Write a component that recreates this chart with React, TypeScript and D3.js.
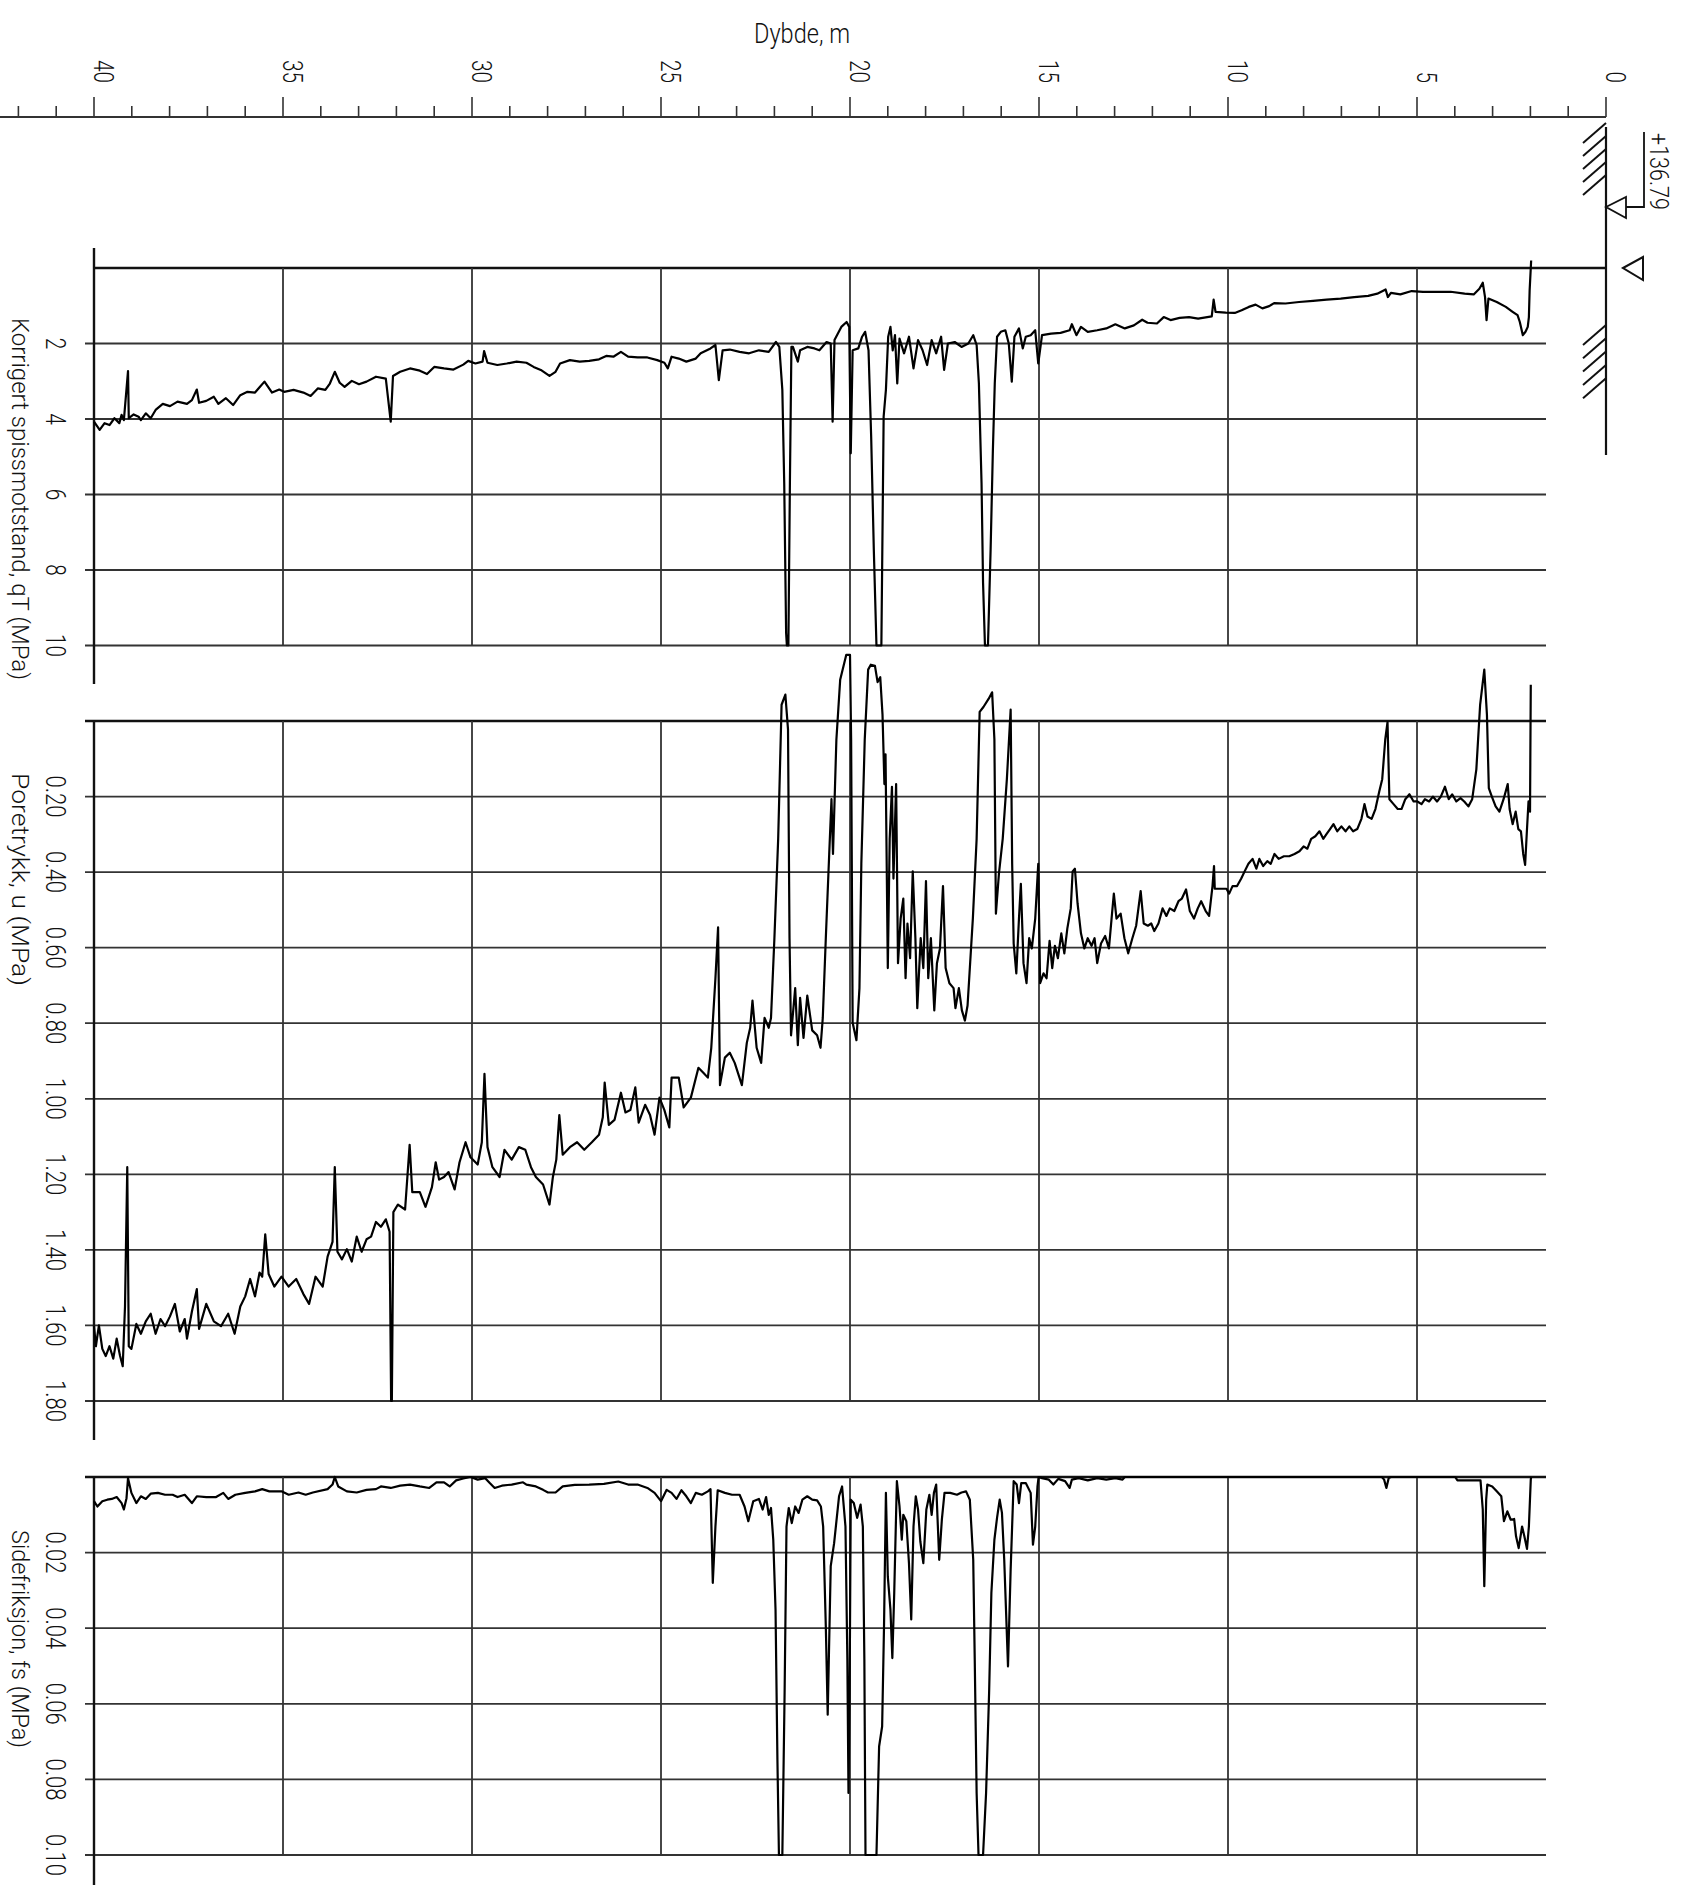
import React from "react";
import * as d3 from "d3";

const W = 1684;
const H = 1885;
const FONT = "Roboto, 'DejaVu Sans Condensed', 'DejaVu Sans', sans-serif";
const FONT_WEIGHT = 300;

// Depth axis (m)
const depthTicks = d3.range(0, 43);
const depthLabels = [0, 5, 10, 15, 20, 25, 30, 35, 40];
const depthGrid = [5, 10, 15, 20, 25, 30, 35];

// Value axes
const qtTicks = [2, 4, 6, 8, 10];
const uTicks = [0.2, 0.4, 0.6, 0.8, 1.0, 1.2, 1.4, 1.6, 1.8];
const fsTicks = [0.02, 0.04, 0.06, 0.08, 0.1];

const qtTitle = "Korrigert spissmotstand, qT (MPa)";
const uTitle = "Poretrykk, u (MPa)";
const fsTitle = "Sidefriksjon, fs (MPa)";
const depthTitle = "Dybde, m";
const groundLevel = "+136.79";

// Corrected cone resistance qT (MPa) by depth (m)
const qtData: [number, number][] = [
  [40.0, 4.07], [39.85, 4.29], [39.72, 4.11], [39.59, 4.16], [39.46, 3.98], [39.33, 4.11], [39.27, 3.89],
  [39.21, 4.03], [39.1, 2.73], [39.08, 3.98], [38.95, 3.88], [38.82, 3.94], [38.76, 4.03], [38.63, 3.85],
  [38.5, 3.98], [38.37, 3.76], [38.18, 3.6], [37.99, 3.66], [37.79, 3.54], [37.54, 3.6], [37.41, 3.5],
  [37.28, 3.22], [37.22, 3.57], [37.03, 3.52], [36.83, 3.41], [36.71, 3.6], [36.51, 3.45], [36.32, 3.63],
  [36.13, 3.37], [35.94, 3.28], [35.74, 3.3], [35.62, 3.16], [35.49, 3.01], [35.29, 3.3], [35.1, 3.22],
  [34.97, 3.28], [34.72, 3.23], [34.46, 3.3], [34.27, 3.39], [34.08, 3.19], [33.88, 3.23], [33.76, 3.06],
  [33.63, 2.75], [33.5, 3.04], [33.37, 3.15], [33.18, 2.99], [32.99, 3.08], [32.79, 3.01], [32.54, 2.88],
  [32.28, 2.93], [32.15, 4.07], [32.09, 2.86], [31.9, 2.75], [31.64, 2.66], [31.38, 2.72], [31.19, 2.81],
  [31.0, 2.62], [30.74, 2.66], [30.49, 2.69], [30.23, 2.56], [30.1, 2.46], [29.91, 2.53], [29.72, 2.48],
  [29.68, 2.2], [29.59, 2.51], [29.33, 2.57], [29.08, 2.53], [28.82, 2.48], [28.56, 2.51], [28.37, 2.62],
  [28.18, 2.7], [27.95, 2.86], [27.79, 2.75], [27.67, 2.53], [27.41, 2.44], [27.15, 2.48], [26.9, 2.46],
  [26.64, 2.42], [26.45, 2.33], [26.26, 2.35], [26.06, 2.22], [25.87, 2.35], [25.62, 2.37], [25.36, 2.37],
  [25.1, 2.44], [24.91, 2.51], [24.82, 2.66], [24.72, 2.35], [24.53, 2.4], [24.33, 2.48], [24.08, 2.4],
  [23.95, 2.26], [23.69, 2.13], [23.56, 2.04], [23.47, 2.97], [23.37, 2.18], [23.18, 2.16], [22.92, 2.22],
  [22.67, 2.26], [22.41, 2.18], [22.15, 2.22], [21.96, 1.96], [21.87, 2.09], [21.79, 3.23], [21.74, 5.7],
  [21.69, 9.67], [21.67, 10.0], [21.63, 10.0], [21.59, 5.7], [21.55, 2.09], [21.51, 2.09], [21.38, 2.48],
  [21.32, 2.18], [21.13, 2.09], [20.94, 2.13], [20.81, 2.18], [20.62, 1.96], [20.51, 2.0], [20.46, 4.07],
  [20.41, 1.91], [20.23, 1.56], [20.09, 1.43], [20.02, 1.56], [19.98, 4.91], [19.93, 2.18], [19.78, 2.13],
  [19.68, 1.82], [19.6, 1.69], [19.51, 2.18], [19.44, 4.47], [19.37, 7.46], [19.3, 10.0], [19.17, 10.0],
  [19.11, 3.94], [19.05, 3.23], [18.99, 1.82], [18.93, 1.56], [18.87, 2.18], [18.81, 1.78], [18.75, 3.06],
  [18.69, 1.87], [18.57, 2.26], [18.44, 1.82], [18.32, 2.66], [18.2, 1.91], [18.08, 2.18], [17.96, 2.57],
  [17.84, 1.91], [17.72, 2.26], [17.59, 1.82], [17.51, 2.7], [17.41, 2.0], [17.23, 1.96], [17.05, 2.09],
  [16.87, 2.0], [16.74, 1.78], [16.65, 2.04], [16.59, 3.06], [16.52, 5.7], [16.48, 8.34], [16.43, 10.0],
  [16.35, 10.0], [16.28, 7.46], [16.22, 4.82], [16.17, 3.06], [16.11, 1.82], [16.01, 1.69], [15.89, 1.65],
  [15.8, 2.0], [15.72, 3.01], [15.65, 1.82], [15.53, 1.6], [15.43, 2.13], [15.35, 1.82], [15.22, 1.78],
  [15.1, 1.65], [15.02, 2.53], [14.92, 1.78], [14.68, 1.74], [14.43, 1.72], [14.19, 1.65], [14.13, 1.49],
  [14.01, 1.78], [13.89, 1.56], [13.71, 1.69], [13.46, 1.65], [13.22, 1.6], [12.98, 1.49], [12.73, 1.6],
  [12.49, 1.52], [12.27, 1.37], [12.13, 1.45], [11.88, 1.47], [11.7, 1.3], [11.52, 1.38], [11.28, 1.32],
  [11.03, 1.3], [10.79, 1.34], [10.55, 1.3], [10.43, 1.28], [10.38, 0.84], [10.33, 1.16], [10.06, 1.18],
  [9.82, 1.19], [9.64, 1.12], [9.45, 1.03], [9.27, 0.97], [9.09, 1.07], [8.91, 1.01], [8.78, 0.93],
  [8.48, 0.94], [8.12, 0.9], [7.75, 0.87], [7.39, 0.84], [7.02, 0.81], [6.66, 0.77], [6.29, 0.74],
  [6.05, 0.68], [5.83, 0.57], [5.77, 0.77], [5.69, 0.66], [5.44, 0.7], [5.14, 0.61], [4.84, 0.63],
  [4.47, 0.63], [4.11, 0.63], [3.74, 0.68], [3.5, 0.7], [3.35, 0.55], [3.26, 0.39], [3.2, 0.77],
  [3.16, 1.38], [3.11, 0.81], [2.89, 0.9], [2.65, 1.03], [2.47, 1.16], [2.34, 1.25], [2.28, 1.43],
  [2.2, 1.78], [2.13, 1.69], [2.07, 1.56], [2.04, 1.3], [2.02, 0.59], [1.98, -0.2],
];

// Pore pressure u (MPa) by depth (m)
const uData: [number, number][] = [
  [40.0, 1.602], [39.95, 1.655], [39.87, 1.6], [39.78, 1.662], [39.69, 1.681], [39.59, 1.655], [39.49, 1.688],
  [39.4, 1.635], [39.31, 1.681], [39.24, 1.708], [39.18, 1.55], [39.12, 1.181], [39.08, 1.655], [39.01, 1.662],
  [38.88, 1.596], [38.76, 1.622], [38.63, 1.589], [38.5, 1.569], [38.37, 1.622], [38.24, 1.583], [38.12, 1.602],
  [37.99, 1.576], [37.86, 1.543], [37.73, 1.616], [37.6, 1.583], [37.54, 1.635], [37.41, 1.563], [37.28, 1.504],
  [37.22, 1.609], [37.03, 1.543], [36.83, 1.589], [36.64, 1.602], [36.45, 1.569], [36.28, 1.622], [36.13, 1.55],
  [36.0, 1.523], [35.87, 1.477], [35.74, 1.523], [35.62, 1.46], [35.55, 1.471], [35.47, 1.359], [35.38, 1.464],
  [35.23, 1.497], [35.04, 1.471], [34.85, 1.497], [34.65, 1.477], [34.46, 1.517], [34.31, 1.543], [34.14, 1.471],
  [33.95, 1.497], [33.82, 1.418], [33.69, 1.379], [33.63, 1.181], [33.56, 1.405], [33.44, 1.425], [33.31, 1.398],
  [33.18, 1.431], [33.05, 1.365], [32.92, 1.405], [32.79, 1.372], [32.67, 1.365], [32.54, 1.326], [32.41, 1.339],
  [32.28, 1.319], [32.18, 1.352], [32.14, 1.8], [32.12, 1.8], [32.08, 1.3], [31.96, 1.28], [31.77, 1.293],
  [31.65, 1.122], [31.58, 1.247], [31.38, 1.247], [31.23, 1.286], [31.06, 1.234], [30.96, 1.168], [30.87, 1.214],
  [30.74, 1.207], [30.62, 1.194], [30.46, 1.24], [30.33, 1.168], [30.17, 1.115], [30.04, 1.155], [29.85, 1.174],
  [29.74, 1.115], [29.67, 0.934], [29.59, 1.128], [29.46, 1.181], [29.27, 1.207], [29.14, 1.135], [28.95, 1.161],
  [28.76, 1.128], [28.59, 1.135], [28.44, 1.181], [28.31, 1.207], [28.12, 1.227], [27.95, 1.28], [27.86, 1.207],
  [27.77, 1.161], [27.69, 1.043], [27.6, 1.148], [27.41, 1.128], [27.22, 1.115], [27.03, 1.135], [26.83, 1.115],
  [26.64, 1.095], [26.54, 1.049], [26.49, 0.957], [26.38, 1.069], [26.23, 1.056], [26.06, 0.984], [25.94, 1.036],
  [25.81, 1.03], [25.68, 0.97], [25.59, 1.063], [25.42, 1.016], [25.29, 1.043], [25.17, 1.095], [25.04, 0.997],
  [24.91, 1.03], [24.78, 1.076], [24.72, 0.944], [24.53, 0.944], [24.4, 1.023], [24.21, 0.997], [24.01, 0.918],
  [23.88, 0.931], [23.76, 0.944], [23.67, 0.865], [23.56, 0.681], [23.49, 0.546], [23.44, 0.964], [23.31, 0.891],
  [23.18, 0.878], [23.05, 0.905], [22.86, 0.964], [22.73, 0.852], [22.64, 0.812], [22.58, 0.74], [22.47, 0.865],
  [22.35, 0.905], [22.26, 0.786], [22.15, 0.812], [22.09, 0.786], [22.0, 0.575], [21.9, 0.312], [21.81, -0.043],
  [21.71, -0.07], [21.64, 0.022], [21.6, 0.575], [21.56, 0.832], [21.45, 0.707], [21.38, 0.858], [21.32, 0.733],
  [21.23, 0.839], [21.13, 0.727], [21.0, 0.819], [20.87, 0.832], [20.78, 0.865], [20.72, 0.786], [20.64, 0.575],
  [20.55, 0.352], [20.49, 0.207], [20.45, 0.352], [20.36, 0.049], [20.26, -0.109], [20.1, -0.175], [20.0, -0.175],
  [19.97, 0.049], [19.93, 0.799], [19.83, 0.845], [19.75, 0.707], [19.7, 0.378], [19.61, 0.049], [19.52, -0.136],
  [19.45, -0.149], [19.34, -0.146], [19.27, -0.103], [19.2, -0.116], [19.14, -0.017], [19.09, 0.167], [19.06, 0.088],
  [19.0, 0.654], [18.95, 0.312], [18.89, 0.174], [18.85, 0.417], [18.78, 0.167], [18.73, 0.641], [18.66, 0.523],
  [18.59, 0.47], [18.53, 0.681], [18.48, 0.536], [18.41, 0.628], [18.34, 0.398], [18.27, 0.575], [18.22, 0.76],
  [18.13, 0.575], [18.06, 0.654], [17.99, 0.424], [17.93, 0.681], [17.86, 0.575], [17.77, 0.766], [17.7, 0.641],
  [17.62, 0.602], [17.54, 0.437], [17.47, 0.654], [17.37, 0.694], [17.26, 0.707], [17.21, 0.76], [17.12, 0.707],
  [17.04, 0.766], [16.96, 0.793], [16.89, 0.753], [16.75, 0.523], [16.65, 0.312], [16.57, -0.024], [16.47, -0.037],
  [16.33, -0.059], [16.24, -0.076], [16.18, 0.049], [16.14, 0.51], [16.06, 0.404], [15.96, 0.312], [15.85, 0.154],
  [15.75, -0.03], [15.71, 0.378], [15.67, 0.589], [15.6, 0.668], [15.53, 0.523], [15.48, 0.431], [15.41, 0.641],
  [15.33, 0.694], [15.26, 0.575], [15.19, 0.602], [15.1, 0.523], [15.02, 0.378], [14.97, 0.694], [14.88, 0.668],
  [14.8, 0.681], [14.72, 0.582], [14.65, 0.654], [14.58, 0.595], [14.5, 0.628], [14.41, 0.562], [14.33, 0.615],
  [14.25, 0.549], [14.16, 0.496], [14.11, 0.398], [14.05, 0.391], [13.98, 0.483], [13.89, 0.562], [13.8, 0.602],
  [13.71, 0.575], [13.61, 0.595], [13.53, 0.575], [13.46, 0.641], [13.36, 0.589], [13.25, 0.569], [13.15, 0.602],
  [13.08, 0.523], [13.02, 0.457], [12.95, 0.523], [12.84, 0.51], [12.74, 0.575], [12.64, 0.615], [12.53, 0.575],
  [12.43, 0.542], [12.37, 0.496], [12.31, 0.45], [12.23, 0.536], [12.12, 0.542], [12.03, 0.536], [11.95, 0.556],
  [11.84, 0.536], [11.73, 0.496], [11.63, 0.516], [11.54, 0.496], [11.42, 0.503], [11.31, 0.477], [11.22, 0.47],
  [11.11, 0.446], [11.01, 0.503], [10.9, 0.523], [10.8, 0.496], [10.71, 0.477], [10.59, 0.503], [10.5, 0.516],
  [10.41, 0.437], [10.37, 0.384], [10.35, 0.444], [10.04, 0.444], [9.97, 0.457], [9.88, 0.437], [9.76, 0.437],
  [9.65, 0.417], [9.56, 0.398], [9.46, 0.378], [9.35, 0.365], [9.25, 0.391], [9.17, 0.365], [9.07, 0.384],
  [8.96, 0.371], [8.87, 0.378], [8.77, 0.352], [8.66, 0.365], [8.52, 0.358], [8.38, 0.358], [8.24, 0.352],
  [8.11, 0.345], [8.0, 0.332], [7.9, 0.338], [7.8, 0.312], [7.69, 0.305], [7.58, 0.292], [7.48, 0.312],
  [7.39, 0.299], [7.3, 0.286], [7.21, 0.273], [7.11, 0.292], [7.0, 0.279], [6.89, 0.292], [6.79, 0.279],
  [6.69, 0.292], [6.58, 0.286], [6.47, 0.259], [6.39, 0.22], [6.31, 0.253], [6.2, 0.259], [6.1, 0.233],
  [6.0, 0.187], [5.92, 0.154], [5.84, 0.049], [5.78, 0.003], [5.73, 0.207], [5.62, 0.22], [5.51, 0.233],
  [5.41, 0.233], [5.31, 0.207], [5.2, 0.194], [5.09, 0.213], [4.99, 0.213], [4.88, 0.22], [4.79, 0.207],
  [4.68, 0.213], [4.58, 0.2], [4.47, 0.213], [4.37, 0.2], [4.26, 0.174], [4.16, 0.207], [4.07, 0.194],
  [3.96, 0.213], [3.85, 0.204], [3.75, 0.213], [3.64, 0.226], [3.54, 0.207], [3.43, 0.128], [3.33, -0.043],
  [3.22, -0.136], [3.15, -0.017], [3.1, 0.178], [3.02, 0.2], [2.92, 0.226], [2.82, 0.24], [2.71, 0.207],
  [2.6, 0.167], [2.55, 0.233], [2.47, 0.273], [2.39, 0.24], [2.32, 0.286], [2.25, 0.292], [2.19, 0.352],
  [2.14, 0.381], [2.09, 0.286], [2.05, 0.213], [2.01, 0.24], [1.99, -0.096],
];

// Sleeve friction fs (MPa) by depth (m)
const fsData: [number, number][] = [
  [40.0, 0.0064], [39.91, 0.0078], [39.78, 0.0064], [39.65, 0.006], [39.53, 0.0058], [39.4, 0.0053], [39.27, 0.0069],
  [39.21, 0.0086], [39.14, 0.0056], [39.1, 0.0003], [39.01, 0.0042], [38.88, 0.0069], [38.76, 0.0051], [38.63, 0.0058],
  [38.5, 0.0044], [38.31, 0.0042], [38.12, 0.0047], [37.92, 0.0047], [37.79, 0.0053], [37.6, 0.0047], [37.41, 0.0069],
  [37.28, 0.0051], [37.03, 0.0053], [36.77, 0.0053], [36.58, 0.0042], [36.45, 0.0058], [36.26, 0.0047], [36.0, 0.0042],
  [35.74, 0.0038], [35.55, 0.0032], [35.36, 0.0038], [35.04, 0.0038], [34.85, 0.0047], [34.59, 0.0041], [34.4, 0.0047],
  [34.21, 0.0041], [33.82, 0.0032], [33.69, 0.002], [33.63, 0.0], [33.54, 0.0025], [33.31, 0.0038], [33.05, 0.0041],
  [32.79, 0.0034], [32.54, 0.0032], [32.41, 0.0025], [32.15, 0.0029], [31.9, 0.0023], [31.64, 0.002], [31.38, 0.0025],
  [31.13, 0.0029], [30.94, 0.0014], [30.74, 0.0014], [30.59, 0.0025], [30.42, 0.0009], [30.23, 0.0004], [30.04, 0.0],
  [29.85, 0.0007], [29.65, 0.0003], [29.53, 0.0016], [29.4, 0.0029], [29.21, 0.0023], [28.95, 0.002], [28.65, 0.0014],
  [28.56, 0.002], [28.31, 0.0025], [28.12, 0.0034], [27.99, 0.0041], [27.79, 0.0041], [27.6, 0.0025], [27.28, 0.0021],
  [26.9, 0.002], [26.51, 0.0018], [26.13, 0.0012], [25.87, 0.002], [25.62, 0.002], [25.36, 0.0029], [25.17, 0.0042],
  [25.0, 0.0064], [24.85, 0.0034], [24.72, 0.0042], [24.59, 0.0058], [24.46, 0.0035], [24.33, 0.0051], [24.21, 0.0069],
  [24.08, 0.0042], [23.92, 0.0047], [23.76, 0.0038], [23.69, 0.0032], [23.63, 0.028], [23.56, 0.0131], [23.5, 0.0035],
  [23.31, 0.0042], [23.12, 0.0047], [22.92, 0.0047], [22.79, 0.0078], [22.69, 0.0117], [22.56, 0.0064], [22.41, 0.0058],
  [22.31, 0.0086], [22.22, 0.0053], [22.15, 0.01], [22.09, 0.0082], [22.03, 0.0166], [21.97, 0.0351], [21.92, 0.0748],
  [21.88, 0.1], [21.79, 0.1], [21.73, 0.0571], [21.68, 0.0131], [21.62, 0.0082], [21.54, 0.0122], [21.45, 0.0078],
  [21.36, 0.0095], [21.26, 0.006], [21.13, 0.0051], [21.0, 0.006], [20.87, 0.0062], [20.77, 0.0078], [20.71, 0.0131],
  [20.64, 0.0395], [20.59, 0.0629], [20.51, 0.0236], [20.42, 0.0175], [20.29, 0.0051], [20.21, 0.0025], [20.12, 0.0131],
  [20.07, 0.0483], [20.04, 0.0836], [20.01, 0.0571], [19.98, 0.006], [19.9, 0.0069], [19.81, 0.0108], [19.72, 0.0073],
  [19.66, 0.0131], [19.62, 0.0483], [19.59, 0.1], [19.3, 0.1], [19.23, 0.0713], [19.15, 0.066], [19.1, 0.0395],
  [19.05, 0.0042], [19.0, 0.0263], [18.93, 0.0351], [18.88, 0.0479], [18.83, 0.0307], [18.76, 0.0011], [18.69, 0.0078],
  [18.63, 0.0166], [18.59, 0.01], [18.51, 0.0117], [18.44, 0.0228], [18.38, 0.0377], [18.32, 0.0131], [18.26, 0.0051],
  [18.2, 0.0086], [18.14, 0.017], [18.06, 0.0228], [17.98, 0.0086], [17.9, 0.0047], [17.84, 0.01], [17.78, 0.0042],
  [17.72, 0.002], [17.64, 0.0219], [17.57, 0.0113], [17.5, 0.0042], [17.35, 0.0042], [17.17, 0.0047], [17.05, 0.0041],
  [16.93, 0.0038], [16.83, 0.006], [16.74, 0.0219], [16.7, 0.0483], [16.65, 0.0836], [16.6, 0.1], [16.48, 0.1],
  [16.4, 0.0836], [16.32, 0.0571], [16.26, 0.0307], [16.18, 0.0166], [16.11, 0.0108], [16.04, 0.006], [15.98, 0.0095],
  [15.92, 0.0219], [15.82, 0.0501], [15.75, 0.0245], [15.67, 0.0011], [15.59, 0.002], [15.53, 0.0069], [15.47, 0.0016],
  [15.35, 0.0016], [15.22, 0.0042], [15.16, 0.0179], [15.1, 0.0131], [15.04, 0.0025], [15.01, 0.0], [14.92, 0.0003],
  [14.74, 0.0007], [14.62, 0.002], [14.49, 0.0005], [14.31, 0.0011], [14.19, 0.0029], [14.13, 0.0007], [13.95, 0.0003],
  [13.71, 0.0009], [13.46, 0.0003], [13.22, 0.0007], [12.98, 0.0003], [12.79, 0.0007], [12.73, 0.0], [5.93, 0.0],
  [5.87, 0.0007], [5.81, 0.0029], [5.75, 0.0003], [5.69, 0.0], [3.99, 0.0], [3.93, 0.0009], [3.32, 0.0009],
  [3.26, 0.0086], [3.22, 0.0289], [3.17, 0.006], [3.14, 0.002], [3.01, 0.0025], [2.89, 0.0038], [2.77, 0.0051],
  [2.7, 0.0117], [2.61, 0.0091], [2.52, 0.0113], [2.43, 0.0111], [2.38, 0.0157], [2.31, 0.0188], [2.22, 0.0131],
  [2.16, 0.0157], [2.09, 0.019], [2.04, 0.0131], [1.99, 0.0007], [1.98, 0.0],
];

// Layout
const x = d3.scaleLinear().domain([0, 40]).range([1606, 94]);
const GRID_LEFT = 85;
const GRID_RIGHT = 1546;
const AXIS_X = 94;

const panels = [
  {
    key: "qt",
    y: d3.scaleLinear().domain([0, 10]).range([268, 645.5]),
    ticks: qtTicks,
    fmt: (v: number) => String(v),
    data: qtData,
    title: qtTitle,
    titleStart: 318,
    titleLen: 362,
    axisTop: 248,
    axisBottom: 684,
    topFullWidth: true,
  },
  {
    key: "u",
    y: d3.scaleLinear().domain([0, 1.8]).range([721, 1401]),
    ticks: uTicks,
    fmt: (v: number) => v.toFixed(2),
    data: uData,
    title: uTitle,
    titleStart: 773,
    titleLen: 213,
    axisTop: 721,
    axisBottom: 1440,
    topFullWidth: false,
  },
  {
    key: "fs",
    y: d3.scaleLinear().domain([0, 0.1]).range([1477, 1855]),
    ticks: fsTicks,
    fmt: (v: number) => v.toFixed(2),
    data: fsData,
    title: fsTitle,
    titleStart: 1530,
    titleLen: 218,
    axisTop: 1477,
    axisBottom: 1885,
    topFullWidth: false,
  },
];

const GRID = "#333";

function RotText(props: {
  x: number;
  y: number;
  text: string;
  size: number;
  len: number;
  anchor: "start" | "middle" | "end";
}) {
  const { x: tx, y: ty, text, size, len, anchor } = props;
  return (
    <text
      transform={`translate(${tx},${ty}) rotate(90)`}
      fontFamily={FONT}
      fontWeight={FONT_WEIGHT}
      fontSize={size}
      textAnchor={anchor}
      textLength={len}
      lengthAdjust="spacingAndGlyphs"
      fill="#111"
    >
      {text}
    </text>
  );
}

export default function App() {
  const labelLen = (s: string) => (s.includes(".") ? 42 : 11.5 * s.length);

  return (
    <svg
      width={W}
      height={H}
      viewBox={`0 0 ${W} ${H}`}
      style={{ position: "absolute", left: 0, top: 0, background: "#fff" }}
    >
      <rect x={0} y={0} width={W} height={H} fill="#fff" />

      {/* Depth axis */}
      <text
        x={754}
        y={43}
        fontFamily={FONT}
        fontWeight={FONT_WEIGHT}
        fontSize={28}
        textLength={96}
        lengthAdjust="spacingAndGlyphs"
        fill="#111"
      >
        {depthTitle}
      </text>
      <line x1={0} y1={117} x2={1606} y2={117} stroke={GRID} strokeWidth={2} />
      {depthTicks.map((d) => (
        <line
          key={`dt${d}`}
          x1={x(d)}
          x2={x(d)}
          y1={117}
          y2={d % 5 === 0 ? 97 : 106}
          stroke={GRID}
          strokeWidth={1.6}
        />
      ))}
      {depthLabels.map((d) => (
        <RotText
          key={`dl${d}`}
          x={x(d)}
          y={83}
          text={String(d)}
          size={27}
          len={11.5 * String(d).length}
          anchor="end"
        />
      ))}

      {/* Ground surface, water level and elevation */}
      <line x1={1606} y1={127} x2={1606} y2={455} stroke="#111" strokeWidth={2.2} />
      {d3.range(5).map((i) => (
        <line key={`h1${i}`} x1={1606} y1={123 + 13 * i} x2={1583} y2={143 + 13 * i} stroke="#111" strokeWidth={2} />
      ))}
      {d3.range(5).map((i) => (
        <line key={`h2${i}`} x1={1606} y1={325 + 13.3 * i} x2={1583} y2={345 + 13.3 * i} stroke="#111" strokeWidth={2} />
      ))}
      <polygon points="1606,207 1626,197 1626,218" fill="#fff" stroke="#111" strokeWidth={1.8} />
      <polyline points="1626,207 1644,207 1644,132" fill="none" stroke="#111" strokeWidth={1.8} />
      <RotText x={1650} y={133} text={groundLevel} size={26} len={77} anchor="start" />
      <polygon points="1623,268 1643,257 1643,280" fill="#fff" stroke="#111" strokeWidth={2} />

      {panels.map((p) => {
        const [y0, y1] = p.y.range();
        const line = d3
          .line<[number, number]>()
          .x((d) => x(d[0]))
          .y((d) => p.y(d[1]));
        return (
          <g key={p.key}>
            {/* panel top */}
            <line
              x1={p.topFullWidth ? AXIS_X : GRID_LEFT}
              x2={p.topFullWidth ? 1606 : GRID_RIGHT}
              y1={y0}
              y2={y0}
              stroke="#111"
              strokeWidth={2.4}
            />
            {/* horizontal grid with ticks */}
            {p.ticks.map((t) => (
              <line
                key={`g${t}`}
                x1={GRID_LEFT}
                x2={GRID_RIGHT}
                y1={p.y(t)}
                y2={p.y(t)}
                stroke={GRID}
                strokeWidth={1.8}
              />
            ))}
            {/* vertical depth grid */}
            {depthGrid.map((d) => (
              <line key={`v${d}`} x1={x(d)} x2={x(d)} y1={y0} y2={y1} stroke={GRID} strokeWidth={1.8} />
            ))}
            {/* value axis */}
            <line x1={AXIS_X} x2={AXIS_X} y1={p.axisTop} y2={p.axisBottom} stroke="#111" strokeWidth={2.4} />
            {p.ticks.map((t) => (
              <RotText
                key={`l${t}`}
                x={46}
                y={p.y(t)}
                text={p.fmt(t)}
                size={27}
                len={labelLen(p.fmt(t))}
                anchor="middle"
              />
            ))}
            <RotText x={12} y={p.titleStart} text={p.title} size={24} len={p.titleLen} anchor="start" />
            {/* measured profile */}
            <path d={line(p.data) || ""} fill="none" stroke="#000" strokeWidth={2.2} strokeLinejoin="round" />
          </g>
        );
      })}
    </svg>
  );
}
